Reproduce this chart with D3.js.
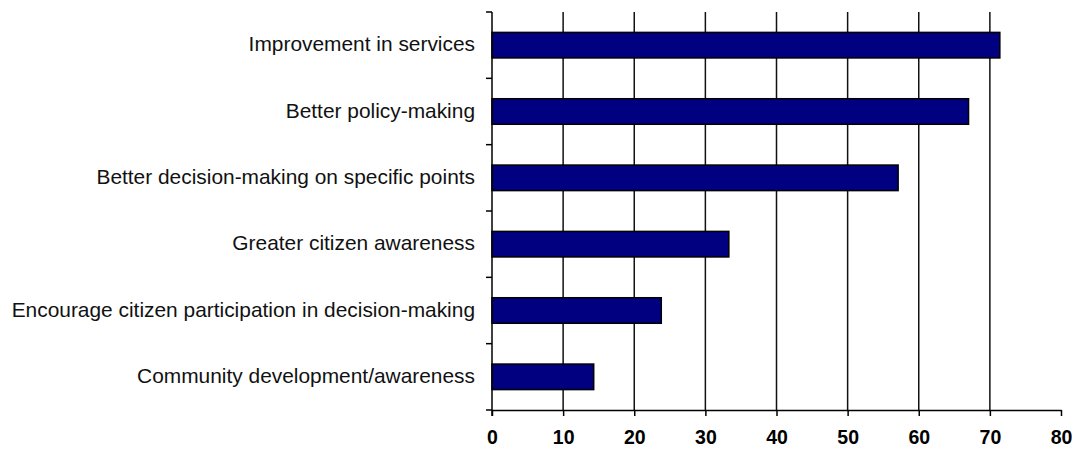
<!DOCTYPE html>
<html>
<head>
<meta charset="utf-8">
<script src="https://cdn.jsdelivr.net/npm/d3@7"></script>
<style>
  html, body { margin: 0; padding: 0; background: #fff; }
  svg { display: block; }
</style>
</head>
<body>
<svg id="chart" width="1072" height="450"></svg>
<script>
// Reasons given for consultation (percentage of respondents)
const categories = [
  "Improvement in services",
  "Better policy-making",
  "Better decision-making on specific points",
  "Greater citizen awareness",
  "Encourage citizen participation in decision-making",
  "Community development/awareness"
];
const values = [71.4, 67.0, 57.1, 33.3, 23.8, 14.3];
const xTicks = [0, 10, 20, 30, 40, 50, 60, 70, 80];

const width = 1072, height = 450;
const margin = { top: 12, right: 11, bottom: 40, left: 492 };
const innerW = width - margin.left - margin.right;
const innerH = height - margin.top - margin.bottom;

const svg = d3.select("#chart");
const g = svg.append("g").attr("transform", `translate(${margin.left},${margin.top})`);

const x = d3.scaleLinear().domain([0, 80]).range([0, innerW]);
const y = d3.scaleBand().domain(categories).range([0, innerH]).padding(0);
const barH = y.bandwidth() * 0.385;

// Vertical gridlines (none at the axis origin or at the far end)
g.append("g")
  .selectAll("line")
  .data(xTicks.filter(t => t > 0 && t < 80))
  .join("line")
  .attr("x1", d => x(d)).attr("x2", d => x(d))
  .attr("y1", 0).attr("y2", innerH)
  .attr("stroke", "#111").attr("stroke-width", 1.5);

// Bars
g.append("g")
  .selectAll("rect")
  .data(categories.map((c, i) => ({ c, v: values[i] })))
  .join("rect")
  .attr("x", x(0))
  .attr("y", d => y(d.c) + y.bandwidth() / 2 - barH / 2)
  .attr("width", d => x(d.v) - x(0))
  .attr("height", barH)
  .attr("fill", "#000080")
  .attr("stroke", "#000")
  .attr("stroke-width", 1.5);

// X axis
const xAxis = g.append("g")
  .attr("transform", `translate(0,${innerH})`)
  .call(d3.axisBottom(x).tickValues(xTicks).tickSize(6).tickSizeOuter(0).tickPadding(14));
xAxis.select(".domain").attr("stroke", "#000").attr("stroke-width", 1.5);
xAxis.selectAll(".tick line").attr("stroke", "#000").attr("stroke-width", 1.5);
xAxis.selectAll(".tick text")
  .attr("font-family", "'Liberation Sans', Arial, sans-serif")
  .attr("font-size", 19.5)
  .attr("font-weight", "bold")
  .attr("fill", "#000");

// Y axis: category dividers as outward ticks
const yAxisG = g.append("g");
yAxisG.append("line")
  .attr("x1", 0).attr("x2", 0).attr("y1", 0).attr("y2", innerH + 6)
  .attr("stroke", "#000").attr("stroke-width", 1.5);
const dividers = d3.range(categories.length).map(i => i * y.step());
yAxisG.selectAll("line.div")
  .data(dividers)
  .join("line")
  .attr("class", "div")
  .attr("x1", -6).attr("x2", 0)
  .attr("y1", d => d).attr("y2", d => d)
  .attr("stroke", "#000").attr("stroke-width", 1.5);
yAxisG.append("line")
  .attr("x1", -6).attr("x2", 0).attr("y1", innerH).attr("y2", innerH)
  .attr("stroke", "#000").attr("stroke-width", 1.5);

// Category labels
yAxisG.selectAll("text")
  .data(categories)
  .join("text")
  .attr("x", -17)
  .attr("y", d => y(d) + y.bandwidth() / 2 - 1)
  .attr("dy", "0.35em")
  .attr("text-anchor", "end")
  .attr("font-family", "'Liberation Sans', Arial, sans-serif")
  .attr("font-size", 20.9)
  .attr("fill", "#111")
  .text(d => d);
</script>
</body>
</html>
